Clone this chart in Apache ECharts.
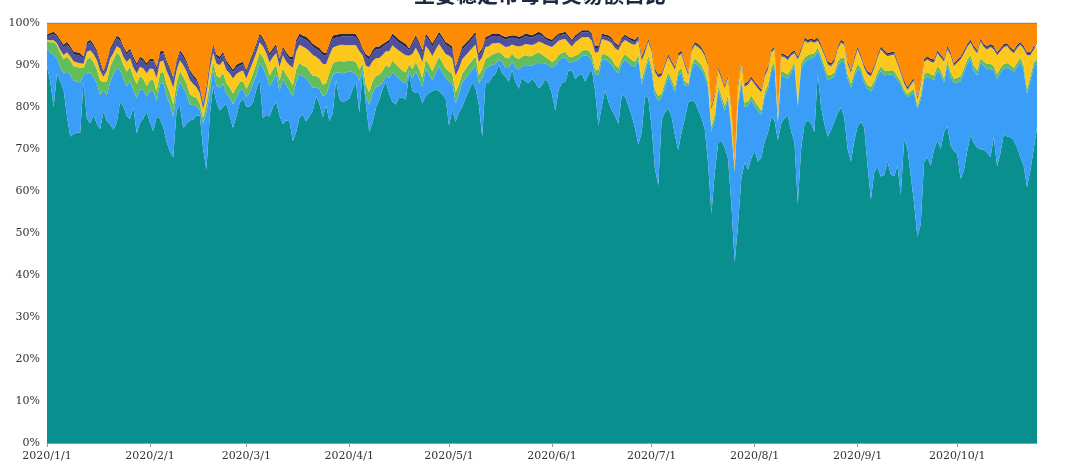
<!DOCTYPE html>
<html><head><meta charset="utf-8">
<script src="https://cdn.jsdelivr.net/npm/echarts@6/dist/echarts.min.js"></script>
<style>html,body{margin:0;padding:0;background:#fff}#c{width:1080px;height:470px}</style>
</head><body><div id="c"></div>
<script>
const titleText = '主要稳定币每日交易额占比';
const startYear = 2020, startMonth = 0, startDay = 1;
const seriesNames = ['USDT','USDC','PAX','TUSD','BUSD','HUSD','DAI'];
const yTicks = [0,10,20,30,40,50,60,70,80,90,100];

const teal = [
90,86,80,88,86,84,78,73,73.5,74,
74,86,77,76,78,76,75,79,77,76,
74.5,76,81,80,78,77,80,74,76,77,
79,76,74,78,77,75,72,70,68,79,
80,75,76,77,77,78,78,70,65,78,
85,81,79,80,81,78,75.5,78,81,82,
80,80,81,84,86,77,78,78,80,81,
78,76,77,77,72,74.5,77.7,78.5,77,78.5,
80,83,81,78.5,80.9,77,78.5,86,81.6,81.2,
81.4,81.6,84,86,79,88,81,74,77,80,
81.6,84,86,83,81,80.5,82,82.5,81.6,88,
84,83.5,83.5,81,82.5,83.5,84,84,83.5,83,
82,76,79.5,76.5,79,80,82,83.5,85.5,84,
80.5,73,86,85.5,87,87.5,90,88,87,86,
88.8,86,84.5,86.8,86,85.5,86.4,85.5,84,85,
86.5,85.5,83.2,79.5,84,85.3,85.6,88.5,88.5,86.4,
87.3,87.5,85.6,87.5,88.8,84,76,80,83.5,81,
79.3,78,76.1,82.5,82,80,78,75,70.5,74,
82,82,75.5,66,62,77.5,79,79.8,78,74,
70,74,77.5,80.9,81.5,81,79.3,77.5,75,67,
55,65,71.5,72.5,71,68,57,43,52,63,
67,65.5,68,70,67.5,68.5,72,74,77.5,76.5,
72,76,77.5,78,74,71.5,57,70,76,76.9,
76,74,88,80,76,73,74.5,76.5,78.5,80,
77.5,70,67,72,75.5,76.5,75,66,58,64.5,
65.7,63.5,64,67,64,63.5,66,59,72,70,
63.5,57,49,52,67,68,66,70,72,70,
74,75.5,71,69.5,69,63,65,69.5,73.2,71.5,
70.5,70,69.8,69.2,68.2,73,66,69,73.7,73,
72.8,72,70.5,68,66,61,65,70,75];

const blue = [
4.4,6.9,12.4,3.7,3.3,3.9,10.6,14.6,12.8,12.1,
11.9,1.8,10.6,12.1,9.1,9.6,8.1,5,6.1,10.1,
13.1,13.1,7.6,6.5,7.1,9.1,4.1,8.5,8.1,6.6,
3.5,7.6,9.6,3.6,8.3,10.6,11.1,11.3,9.6,4.1,
5.7,9.6,7.1,3.9,3.5,2.2,1.3,6,13.8,5.4,
3.9,3.9,5.4,5.6,2.4,4.4,5.7,4.4,2.9,2.2,
2.2,3.4,4.4,3.5,3.9,11.9,9.4,7.2,6.4,6.4,
5.9,10.8,8.4,7.4,10.6,12.1,10.4,9.1,10.3,8.1,
5.6,2.1,3.6,5.1,2.5,8.6,9.1,1.8,6.4,6.9,
6.7,6.5,4.1,1.9,7.6,0.8,2.1,6.5,7.1,5,
3.4,1.6,1.5,3.6,7.1,6.9,4.6,3.6,4,0.7,
3,5.1,3.5,4,6.5,4.5,2.6,4,5.9,5.3,
5,10.5,6.4,4.5,4.5,5.9,4.7,4,3,5.4,
5.2,13.9,3.1,3.9,2.9,2.4,1.3,2.8,2.1,3.3,
2.1,3.4,4.6,2.6,3.9,4.2,3.1,4.4,6.3,4.9,
3.7,4.3,6.3,10.8,7,5.9,5.8,2,2,4.2,
3.8,4.3,6.2,4.3,2.2,4,12,11,7.3,9.6,
10.7,10.8,12.1,7.5,8.8,10.2,11.8,14.5,20,11.5,
5.5,9.1,13.3,17.8,20.4,5.3,6.2,7.6,7.8,10.3,
17.6,14.2,7.8,4,7.3,9.3,10.5,11.5,12.6,18.2,
19.8,12.8,12.8,9.8,8.8,14.3,17.8,21.5,28.3,22.8,
13.3,15.3,14,10.8,12.3,10.3,10.8,10.4,10.9,12.8,
4.3,11.6,9.8,8.8,13.8,18.3,23.3,19.3,14.8,14.4,
15.6,17.8,5.3,11.3,12.8,13.6,12.2,10.8,11.3,10.8,
13.3,16.8,17.6,15.3,13.7,11.8,10.8,18.3,25.8,20.8,
21.6,25.2,23.8,20.6,23.8,24,20.3,26.1,11.3,12.1,
19.3,26.3,30.3,29.8,19.8,19.3,20.8,16.6,16.8,17.8,
11.8,14.8,16.3,16.2,17,23.3,23.3,20.8,18.1,17.3,
17.3,20.6,20,20,21.1,15.8,20.8,19.3,15.6,16.5,
16.2,16.3,19.1,22.8,22.8,22.3,21.3,19.7,15.3];

const green = [
1.6,2.5,3,3,3.5,3.4,3.6,3.5,3.4,3.6,
3.5,1.5,3.4,3.6,3.5,3.3,3.5,2,3.4,3.6,
3.5,3.6,3.4,3.3,3.5,3.4,3.2,3.3,3,2.8,
2.6,2.5,2.6,2.4,2.5,2.6,2.7,2.8,3,2.5,
2.4,2.6,2.5,2.4,2,2,1.5,1.5,2,2.5,
2,2.5,2.4,2.6,2.5,2.4,2.6,2.5,2,2,
2,2.4,2.5,2.6,2.4,2.6,2.5,2.6,2.5,2.4,
2.5,2.6,2.5,2.6,2.7,2.8,2.7,2.6,2.8,2.7,
2.8,2.7,2.6,2.8,2.7,2.9,2.8,2.6,2.7,2.8,
2.7,2.6,2.7,2.8,2.7,1.5,2.6,3,2.8,2.7,
2.6,2.7,2.5,2.7,2.8,2.7,2.6,2.7,2.6,1.5,
2.2,2.3,2.2,2.1,2.2,2.3,2.2,2.1,2.2,2.3,
2.2,2.4,2.3,2.5,2.2,2.1,2.2,2.3,2.2,2.1,
2,2,2.4,2.3,2.4,2.5,1.8,1.8,2.4,2.3,
1.8,2.4,2.5,2.3,2.4,2.2,2.3,2.4,2.2,2.3,
1.5,1.4,1.3,1.4,1.3,1.2,1.3,1.4,1.2,1.3,
1.3,1.2,1.3,1.4,1.3,1.2,1.4,1.3,1.2,1.3,
1.4,1.3,1.2,1.3,1.2,1.3,1.4,1.3,1.2,1.1,
1.2,1,1.1,1.2,1.1,1,1.1,1,1,1.1,
1.2,1,1,0.6,1,1.1,1,1,1.1,1.2,
1.1,1.2,1,1.1,1.2,1,1.1,0.5,1.2,1.1,
1,1.1,1,1.2,1.1,1,1,1.1,1,1,
0.5,1,1.1,1,1,0.9,1.2,1,1.1,1,
1,0.9,0.8,1,1,1.1,1,0.9,1,1.1,
1,1.1,1,1,1.1,1,0.9,1,1.1,1,
1,1.1,1.2,1,1.1,1,0.9,0.8,0.7,0.7,
0.8,0.9,0.8,1,1.1,1,1,1.1,1,1,
1.1,1,1.2,1,1.1,1.2,1,1,0.9,1.1,
1.2,1.1,1,1.1,1.2,1.1,1.2,1,1.1,1,
1,0.9,1,1,1.1,1.2,1.1,1,1];

const yellow = [
0.3,0.5,0.5,0.5,0.8,1,1,1,1.2,1,
1.1,1,1.8,1.6,2,2.2,2.4,1.2,2.5,2,
1.6,1.5,1.8,2,2.3,2,2.2,2.6,2.2,2.4,
3,2.8,2.6,3.2,2.8,2.6,3.2,3.6,4,3,
2.6,2.8,3,3.4,3,2.5,2.5,2,2.5,3,
2,2.8,3,2.8,3.2,3.4,3.6,3.2,2.5,2.5,
2.5,3,2.8,2.6,2.4,2.6,2.8,3.2,3,2.8,
3.2,3,3.2,3.4,4.2,4.4,4.2,4.6,4.4,4.8,
5,4.6,4.4,5,4.6,4.2,3.8,3.6,3.8,4,
3.8,3.6,3.8,4,4.4,2,4.6,6,4.8,4.2,
4,3.8,3.3,3.8,3.6,3.8,4,4.2,4,2,
3.6,3.4,3.6,3.8,3.2,3.4,3.6,3.4,3,3.2,
3.4,3.8,3.6,4,3.8,3.4,3.2,3,3,2.8,
3,3,2.8,2.6,2.6,2.4,2.2,2.2,2.6,2.8,
2.2,2.8,3,2.6,2.6,2.8,2.6,2.4,2.6,2.8,
3,3.2,3.6,3.8,3.4,3.2,3,3.2,2.5,3.2,
3.4,3.2,3,3.2,3.4,4,4.2,3.6,3.4,3.6,
3.8,4,4.2,3.6,3.4,3.6,3.8,4,3.4,4.5,
3.6,3.4,3.8,4.2,4.5,4.2,3.8,3.6,3.8,4.2,
3.6,3.4,3.8,2,3.4,3.2,3.4,3.6,3.8,4,
4.2,4.4,3.8,4,4.2,4,3.8,1.5,3.6,3.4,
3.8,4,3.8,4,4.2,4.4,3.8,3.6,3.4,3.2,
1.5,3.4,3.6,3.4,3.2,2,10,3,4,3,
3,2.5,1.5,2,2.5,2.5,2,2.5,3,3.5,
3,2.5,2.5,3,3.5,2.5,2.5,2.5,2.5,3,
3.5,4,4,3.5,3.5,4,3,2,1.5,1,
1.5,2,1.5,2.5,3,3,3,3,3,3,
4,2.5,4,3,3.5,4,3.5,3,3,4,
4,4,3.5,3.5,4,4,4.5,4,4,4,
3.5,3.5,3.5,3,4,8,5,3,3];

const purple = [
0.8,1.2,1.5,1.5,1.8,1.8,1.9,1.8,1.7,1.8,
1.8,1.2,1.8,1.9,1.8,1.7,1.8,0.8,1.8,1.9,
2,1.9,1.8,1.8,1.7,1.8,1.9,1.8,1.8,1.7,
1.8,1.7,1.8,1.9,1.8,1.8,1.9,1.8,1.8,1.7,
1.8,1.8,1.9,1.8,1.5,1.5,1,1,1.2,1.5,
1.5,1.5,1.4,1.6,1.5,1.4,1.5,1.6,1.5,1.5,
1.4,1.5,1.6,1.5,1.5,1.4,1.5,1.6,1.5,1.5,
1.4,1.5,1.6,1.5,2,2.1,2,1.9,2,2.1,
2,1.9,2,2.1,2,2,2.1,2,1.9,2,
2.1,2,2,1.9,2,1.2,2,1.8,2,2.1,
2,1.9,1.6,2,2.1,2,1.9,2,2,1.3,
2.2,2.3,2.2,2.1,2.2,2.3,2.2,2.1,2.2,2.3,
2.2,2.1,2.2,1.5,2.2,2.3,2.2,2.1,2.2,2.3,
1.5,1.5,1.8,1.9,1.8,1.7,1.6,1.6,1.8,1.9,
1.6,1.8,1.7,1.8,1.9,1.8,1.7,1.8,1.7,1.6,
1.3,1.2,1.2,1.3,1.2,1.1,1.2,1.2,1.1,1.2,
1.1,1.2,1.2,1.1,1.2,1.1,0.9,0.8,0.8,0.9,
0.8,0.8,0.7,0.8,0.8,0.7,0.8,0.7,0.6,0.5,
0.5,0.3,0.3,0.4,0.3,0.3,0.3,0.4,0.3,0.3,
0.3,0.4,0.3,0.2,0.3,0.3,0.4,0.3,0.3,0.3,
0.3,0.3,0.3,0.4,0.3,0.3,0.3,0.2,0.3,0.3,
0.3,0.4,0.3,0.3,0.3,0.3,0.4,0.3,0.3,0.3,
0.2,0.3,0.3,0.4,0.3,0.3,0.3,0.3,0.4,0.3,
0.3,0.3,0.4,0.3,0.3,0.3,0.3,0.4,0.3,0.3,
0.3,0.3,0.3,0.4,0.3,0.3,0.3,0.3,0.3,0.4,
0.3,0.3,0.4,0.3,0.3,0.3,0.3,0.3,0.4,0.3,
0.3,0.3,0.3,0.3,0.4,0.3,0.3,0.4,0.3,0.3,
0.3,0.4,0.3,0.3,0.3,0.3,0.4,0.3,0.3,0.3,
0.4,0.3,0.3,0.3,0.3,0.4,0.3,0.3,0.4,0.3,
0.3,0.3,0.4,0.3,0.3,0.3,0.3,0.4,0.3];

const black = [
0.4,0.5,0.5,0.5,0.6,0.6,0.6,0.6,0.6,0.6,
0.6,0.5,0.6,0.6,0.6,0.6,0.6,0.5,0.6,0.6,
0.6,0.6,0.7,0.6,0.6,0.6,0.7,0.6,0.6,0.6,
0.6,0.6,0.6,0.7,0.6,0.6,0.6,0.6,0.6,0.6,
0.6,0.7,0.6,0.6,0.6,0.6,0.5,0.5,0.5,0.6,
0.6,0.6,0.6,0.6,0.7,0.6,0.6,0.6,0.6,0.6,
0.6,0.6,0.6,0.7,0.6,0.6,0.6,0.6,0.6,0.6,
0.6,0.6,0.6,0.6,0.7,0.7,0.7,0.7,0.8,0.7,
0.7,0.7,0.7,0.7,0.7,0.7,0.8,0.7,0.7,0.7,
0.7,0.7,0.7,0.7,0.7,0.5,0.7,0.7,0.7,0.7,
0.7,0.7,0.6,0.7,0.7,0.8,0.7,0.7,0.7,0.5,
0.7,0.7,0.7,0.7,0.7,0.7,0.8,0.7,0.7,0.7,
0.7,0.7,0.7,0.6,0.7,0.7,0.7,0.7,0.7,0.7,
0.6,0.6,0.6,0.6,0.6,0.6,0.6,0.6,0.6,0.6,
0.6,0.6,0.6,0.6,0.6,0.6,0.6,0.6,0.6,0.6,
0.5,0.5,0.5,0.5,0.5,0.5,0.5,0.5,0.5,0.5,
0.5,0.5,0.5,0.5,0.5,0.5,0.5,0.5,0.5,0.5,
0.5,0.5,0.5,0.5,0.5,0.5,0.5,0.5,0.5,0.5,
0.5,0.4,0.4,0.4,0.4,0.4,0.4,0.4,0.4,0.4,
0.4,0.4,0.4,0.4,0.4,0.4,0.4,0.4,0.4,0.4,
0.4,0.4,0.4,0.4,0.4,0.4,0.4,0.3,0.4,0.4,
0.4,0.4,0.4,0.4,0.4,0.4,0.4,0.4,0.4,0.4,
0.4,0.4,0.4,0.4,0.4,0.4,0.4,0.4,0.4,0.4,
0.4,0.4,0.4,0.4,0.4,0.4,0.4,0.4,0.4,0.4,
0.4,0.4,0.4,0.4,0.4,0.4,0.4,0.4,0.4,0.4,
0.4,0.4,0.4,0.4,0.4,0.4,0.4,0.4,0.4,0.4,
0.4,0.4,0.4,0.4,0.4,0.4,0.4,0.4,0.4,0.4,
0.4,0.4,0.4,0.4,0.4,0.4,0.4,0.4,0.4,0.4,
0.4,0.4,0.4,0.4,0.4,0.4,0.4,0.4,0.4,0.4,
0.4,0.4,0.4,0.4,0.4,0.4,0.4,0.4,0.4];

const orange = [
2.8,2.4,2.1,2.8,4,5.2,4.5,5.5,6.8,7,
7.2,8,4.5,4,5,6.5,9,11.5,9,6,
4.5,3,3.5,5.6,7,6,8,9.6,8,8.5,
9.6,8.5,8.5,10.5,6.8,6.5,9,10.8,13,9,
6.4,7.5,9,11.2,12.4,13.2,15.2,19,15,9,
5,7.5,8,6.8,9,10,11.2,10,9.5,9.2,
11.2,9,7,4.9,2.5,3.5,5,7.2,6,5,
8.5,5.6,7,8,8,4,2.5,3,3.3,4,
5,5.5,6,7,7.2,5,3,2.8,2.6,2.5,
2.5,2.5,2.5,2.7,4,6,7.5,8,6.5,5.6,
5.6,5,4.5,4,2.5,3.2,4,4.5,5,6,
4.5,2.9,4.5,6.5,2.5,3.5,4.9,3.5,2.1,3.2,
4.5,5,5.6,10.4,8,5.6,4.8,4,3,2.1,
7.2,6,3.3,3,2.5,2.5,2.5,3,3.3,3.1,
2.9,3,3.3,3,2.5,2.7,2.9,2.5,2.1,2.5,
3.3,3.7,4,3.2,2.5,2.3,2.1,3,4,2.9,
2.4,1.7,1.7,1.7,2.5,5.5,5.5,2.5,2.7,2.9,
3.5,4.7,5.3,3.5,2.7,3.3,3.7,4,3,8,
6,3.7,6,11,12.4,12,9.6,7.4,9,10.5,
7.2,6.6,9.5,11.8,6,4.5,5,5.8,7.2,9.6,
20,17,10.5,12.5,15,12.5,20,33,14.5,9,
14.5,14,12.8,14,15,16,12,10.4,6.4,5.5,
21,7.2,7.5,8,7,6.5,8,6,3.5,4,
3.7,4,3.5,5,7,9.2,9.6,8.5,5.5,4,
4.5,9,11.2,8,5.6,7.5,10,11.5,12,10,
7.5,5.6,6.5,7.2,7,6.8,9,11.2,13.5,15.2,
14,13,17.5,14,8.5,8,8.5,8.7,6.5,7.5,
8.5,5.5,7,9.6,8.8,8,6.5,5,4,5.5,
6.5,3.7,5,5.6,5,5.5,7,6,5,4.8,
5.8,6.5,5.2,4.5,5.5,7,7,5.6,5];

const colors = ['#098f8e','#3a9df8','#62bd5b','#fbc81b','#4f4f9d','#262a45','#fd8c04'];
const raw = [teal, blue, green, yellow, purple, black, orange];

// category labels: one per day from the start date
const categories = teal.map((_, i) => {
  const d = new Date(Date.UTC(startYear, startMonth, startDay + i));
  return d.getUTCFullYear() + '/' + (d.getUTCMonth() + 1) + '/' + d.getUTCDate();
});
// share of each day's total (percent stack)
const totals = teal.map((_, i) => raw.reduce((s, arr) => s + arr[i], 0));
const shares = raw.map(arr => arr.map((v, i) => +(v / totals[i] * 100).toFixed(3)));

const monthStart = (idx, val) => val.split('/')[2] === '1';

const chart = echarts.init(document.getElementById('c'), null, {renderer: 'canvas'});
chart.setOption({
  animation: false,
  backgroundColor: '#fff',
  title: {
    text: titleText, left: 'center', top: -21,
    textStyle: {fontFamily: 'Noto Sans CJK SC', fontSize: 21, fontWeight: 'bold', color: '#1b2a41'}
  },
  grid: {left: 47, right: 43, top: 23, bottom: 27, containLabel: false},
  xAxis: {
    type: 'category', boundaryGap: false, data: categories,
    axisLine: {show: true, lineStyle: {color: '#999'}},
    axisTick: {show: true, interval: monthStart, length: 4, lineStyle: {color: '#999'}},
    axisLabel: {interval: monthStart, margin: 8, color: '#333', fontFamily: 'DejaVu Serif', fontSize: 11},
    splitLine: {show: false}
  },
  yAxis: {
    type: 'value', min: yTicks[0], max: yTicks[yTicks.length - 1], interval: yTicks[1] - yTicks[0],
    axisLine: {show: false}, axisTick: {show: false}, splitLine: {show: false},
    axisLabel: {formatter: '{value}%', margin: 7, color: '#333', fontFamily: 'DejaVu Serif', fontSize: 11}
  },
  series: shares.map((arr, k) => ({
    name: seriesNames[k], type: 'line', stack: 'total', data: arr,
    symbol: 'none', showSymbol: false,
    lineStyle: k === 6 ? {width: 1, color: '#7a5a3a', opacity: 0.7} : {width: 0},
    areaStyle: {color: colors[k], opacity: 1},
    itemStyle: {color: colors[k]}
  }))
});
</script></body></html>
